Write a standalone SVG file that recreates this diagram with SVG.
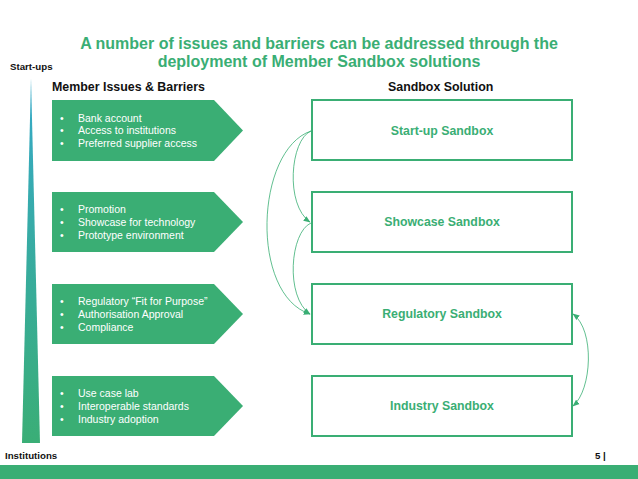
<svg xmlns="http://www.w3.org/2000/svg" width="638" height="479" viewBox="0 0 638 479">
<defs>
<linearGradient id="wedge" x1="0" y1="0" x2="0" y2="1">
<stop offset="0" stop-color="#35a9c9"/>
<stop offset="1" stop-color="#3aae76"/>
</linearGradient>
<marker id="ah" viewBox="0 0 10 10" refX="9" refY="5" markerWidth="7" markerHeight="7" orient="auto-start-reverse" markerUnits="userSpaceOnUse">
<path d="M0,1 L10,5 L0,9 z" fill="#3aae74"/>
</marker>
<style>
.title{font-family:"Liberation Sans",Arial,sans-serif;font-weight:bold;font-size:16px;fill:#3aae74;text-anchor:middle}
.hdr{font-family:"Liberation Sans",Arial,sans-serif;font-weight:bold;font-size:12.4px;fill:#111}
.small{font-family:"Liberation Sans",Arial,sans-serif;font-weight:bold;font-size:9.7px;fill:#111}
.pent{fill:#3aae74}
.bl{font-family:"Liberation Sans",Arial,sans-serif;font-size:10.5px;fill:#fff}
.box{fill:#fff;stroke:#3aae74;stroke-width:2}
.bt{font-family:"Liberation Sans",Arial,sans-serif;font-weight:bold;font-size:12.3px;fill:#3aae74;text-anchor:middle}
.conn{fill:none;stroke:#3aae74;stroke-width:0.8}
</style>
</defs>
<rect width="638" height="479" fill="#fff"/>
<text class="title" x="319" y="49">A number of issues and barriers can be addressed through the</text>
<text class="title" x="319" y="67">deployment of Member Sandbox solutions</text>
<text class="small" x="10" y="70">Start-ups</text>
<text class="small" x="5" y="459">Institutions</text>
<text class="small" x="595" y="459">5 |</text>
<polygon points="31,78 22,443 40,443" fill="url(#wedge)"/>
<rect x="0" y="465" width="638" height="14" fill="#3aae74"/>
<text class="hdr" x="52" y="91">Member Issues &amp; Barriers</text>
<text class="hdr" x="388" y="91">Sandbox Solution</text>
<g id="issue1">
<polygon class="pent" points="52,100 214,100 243,130.5 214,161 52,161"/>
<text class="bl"><tspan x="60" y="122">•</tspan><tspan x="78" y="122">Bank account</tspan><tspan x="60" y="134">•</tspan><tspan x="78" y="134">Access to institutions</tspan><tspan x="60" y="147">•</tspan><tspan x="78" y="147">Preferred supplier access</tspan></text>
</g>
<g id="issue2">
<polygon class="pent" points="52,192 214,192 243,222 214,252 52,252"/>
<text class="bl"><tspan x="60" y="213">•</tspan><tspan x="78" y="213">Promotion</tspan><tspan x="60" y="226">•</tspan><tspan x="78" y="226">Showcase for technology</tspan><tspan x="60" y="239">•</tspan><tspan x="78" y="239">Prototype environment</tspan></text>
</g>
<g id="issue3">
<polygon class="pent" points="52,284 214,284 243,314 214,344 52,344"/>
<text class="bl"><tspan x="60" y="305">•</tspan><tspan x="78" y="305">Regulatory “Fit for Purpose”</tspan><tspan x="60" y="318">•</tspan><tspan x="78" y="318">Authorisation Approval</tspan><tspan x="60" y="331">•</tspan><tspan x="78" y="331">Compliance</tspan></text>
</g>
<g id="issue4">
<polygon class="pent" points="52,376 214,376 243,406 214,436 52,436"/>
<text class="bl"><tspan x="60" y="397">•</tspan><tspan x="78" y="397">Use case lab</tspan><tspan x="60" y="410">•</tspan><tspan x="78" y="410">Interoperable standards</tspan><tspan x="60" y="423">•</tspan><tspan x="78" y="423">Industry adoption</tspan></text>
</g>
<g id="startup">
<rect class="box" x="312" y="100" width="260" height="60"/>
<text class="bt" x="442" y="135">Start-up Sandbox</text>
</g>
<g id="showcase">
<rect class="box" x="312" y="192" width="260" height="60"/>
<text class="bt" x="442" y="226">Showcase Sandbox</text>
</g>
<g id="regulatory">
<rect class="box" x="312" y="284" width="260" height="60"/>
<text class="bt" x="442" y="318">Regulatory Sandbox</text>
</g>
<g id="industry">
<rect class="box" x="312" y="376" width="260" height="60"/>
<text class="bt" x="442" y="410">Industry Sandbox</text>
</g>
<g id="connectors">
<path class="conn" d="M311,131 C290,140 285,205 310,222" marker-end="url(#ah)"/>
<path class="conn" d="M311,131 C255,150 250,295 310,314" marker-end="url(#ah)"/>
<path class="conn" d="M311,223 C290,232 285,297 310,314" marker-end="url(#ah)"/>
<path class="conn" d="M573,314 C595,330 592,390 573,406" marker-start="url(#ah)" marker-end="url(#ah)"/>
</g>
</svg>
